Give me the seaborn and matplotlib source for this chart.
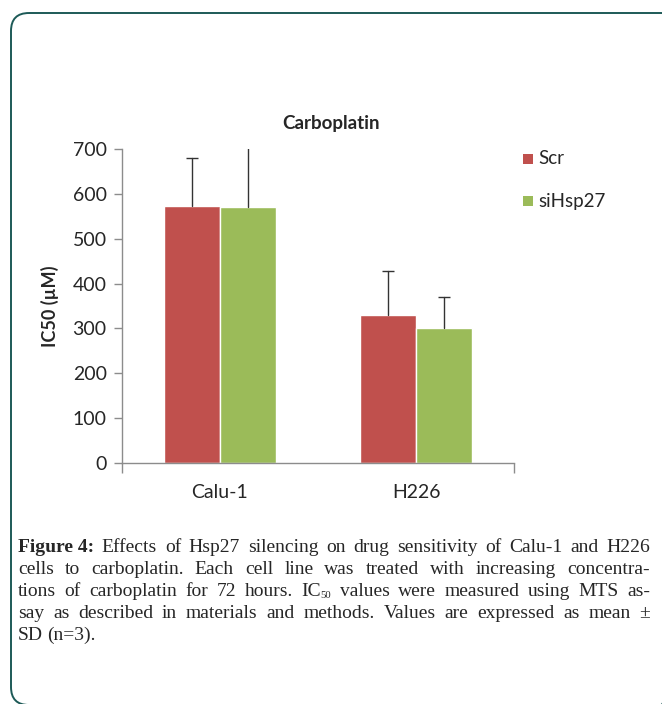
import pandas as pd
import matplotlib.pyplot as plt
import seaborn as sns
from matplotlib.patches import FancyBboxPatch

# Values (IC50, uM)
cell_lines = ["Calu-1", "H226"]
groups = ["Scr", "siHsp27"]
scr_mean = [572, 330]
si_mean = [570, 300]
scr_sd = [107, 98]
si_sd = [140, 70]
y_ticks = [0, 100, 200, 300, 400, 500, 600, 700]

colors = {"Scr": "#C0504D", "siHsp27": "#9BBB59"}

df = pd.DataFrame({
    "cell": cell_lines * 2,
    "group": ["Scr"] * 2 + ["siHsp27"] * 2,
    "ic50": scr_mean + si_mean,
    "sd": scr_sd + si_sd,
})

sns.set_style("white")
plt.rcParams["font.family"] = ["Lato", "DejaVu Sans"]

W, H = 662, 704
fig = plt.figure(figsize=(W / 100, H / 100), dpi=100)

# background axes in pixel units, for the rounded frame
bg = fig.add_axes([0, 0, 1, 1])
bg.set_xlim(0, W)
bg.set_ylim(H, 0)
bg.axis("off")
bg.add_patch(FancyBboxPatch((11, 13), 668, 692,
                            boxstyle="round,pad=0,rounding_size=18",
                            fill=False, edgecolor="#1d5a57", linewidth=1.4,
                            clip_on=False))

ax = fig.add_axes([122 / W, 1 - 463 / H, 392 / W, 314 / H])
sns.barplot(data=df, x="cell", y="ic50", hue="group", hue_order=groups,
            palette=colors, width=0.57, saturation=1, errorbar=None,
            legend=False, ax=ax)

# upward-only SD bars with a cap at the top only
bars = sorted(ax.patches, key=lambda p: p.get_x())
order = [("Calu-1", "Scr"), ("Calu-1", "siHsp27"), ("H226", "Scr"), ("H226", "siHsp27")]
for bar, (c, g) in zip(bars, order):
    row = df[(df.cell == c) & (df.group == g)].iloc[0]
    xc = bar.get_x() + bar.get_width() / 2
    ax.plot([xc, xc], [row.ic50, row.ic50 + row.sd], color="#333333", lw=1.0)
    ax.plot([xc], [row.ic50 + row.sd], marker="_", markersize=8,
            markeredgewidth=1.0, color="#333333")

ax.set_xlim(-0.5, 1.5)
ax.set_ylim(0, 700)
ax.set_yticks(y_ticks)
ax.set_xlabel("")
ax.set_ylabel("IC50 (µM)", fontsize=13, fontweight="bold", labelpad=10)
for s in ["top", "right"]:
    ax.spines[s].set_visible(False)
for s in ["left", "bottom"]:
    ax.spines[s].set_color("#8c8c8c")
    ax.spines[s].set_linewidth(1.0)
ax.tick_params(axis="y", direction="out", length=6, width=1, color="#8c8c8c",
               labelsize=14, pad=5, left=True)
ax.tick_params(axis="x", length=0, labelsize=14, pad=15)
ax.set_xticks([-0.5, 1.5], minor=True)
ax.tick_params(axis="x", which="minor", direction="out", length=7, width=1,
               color="#8c8c8c", bottom=True)

fig.text(331 / W, 1 - 123 / H, "Carboplatin", ha="center", va="center",
         fontsize=13.5, fontweight="bold")

# legend
for i, g in enumerate(groups):
    yy = 159 + 42 * i
    bg.add_patch(plt.Rectangle((523, yy - 5), 10, 10,
                               facecolor=colors[g], edgecolor="none"))
    bg.text(538, yy, g, ha="left", va="center", fontsize=13.5)

# caption, justified word by word; "IC" gets a small lowered "50"
cap_lines = [
    "Figure 4: Effects of Hsp27 silencing on drug sensitivity of Calu-1 and H226",
    "cells to carboplatin. Each cell line was treated with increasing concentra-",
    "tions of carboplatin for 72 hours. IC_50 values were measured using MTS as-",
    "say as described in materials and methods. Values are expressed as mean ±",
    "SD (n=3).",
]
cap_size = 14
x_left, x_right = 18, 650
fig.canvas.draw()
renderer = fig.canvas.get_renderer()


def wwidth(t):
    return t.get_window_extent(renderer).width


for li, line in enumerate(cap_lines):
    ypix = 547 + 22 * li
    words = line.split()
    if li == 0:
        words = ["Figure 4:"] + words[2:]
    items = []
    for w in words:
        wt = "bold" if w == "Figure 4:" else "normal"
        if "_" in w:
            base, sub = w.split("_")
            t1 = bg.text(0, ypix, base, ha="left", va="center", fontsize=cap_size,
                         family="Liberation Serif")
            t2 = bg.text(0, ypix + 5, sub, ha="left", va="center",
                         fontsize=cap_size * 0.55, family="Liberation Serif")
            items.append([t1, t2])
        else:
            items.append([bg.text(0, ypix, w, ha="left", va="center",
                                  fontsize=cap_size, fontweight=wt,
                                  family="Liberation Serif")])
    widths = [sum(wwidth(t) for t in it) for it in items]
    if li < len(cap_lines) - 1:
        gap = (x_right - x_left - sum(widths)) / (len(items) - 1)
    else:
        gap = 4.0
    x = x_left
    for it, wd in zip(items, widths):
        xx = x
        for t in it:
            t.set_x(xx)
            xx += wwidth(t)
        x += wd + gap

fig.savefig("out.png", dpi=100)
